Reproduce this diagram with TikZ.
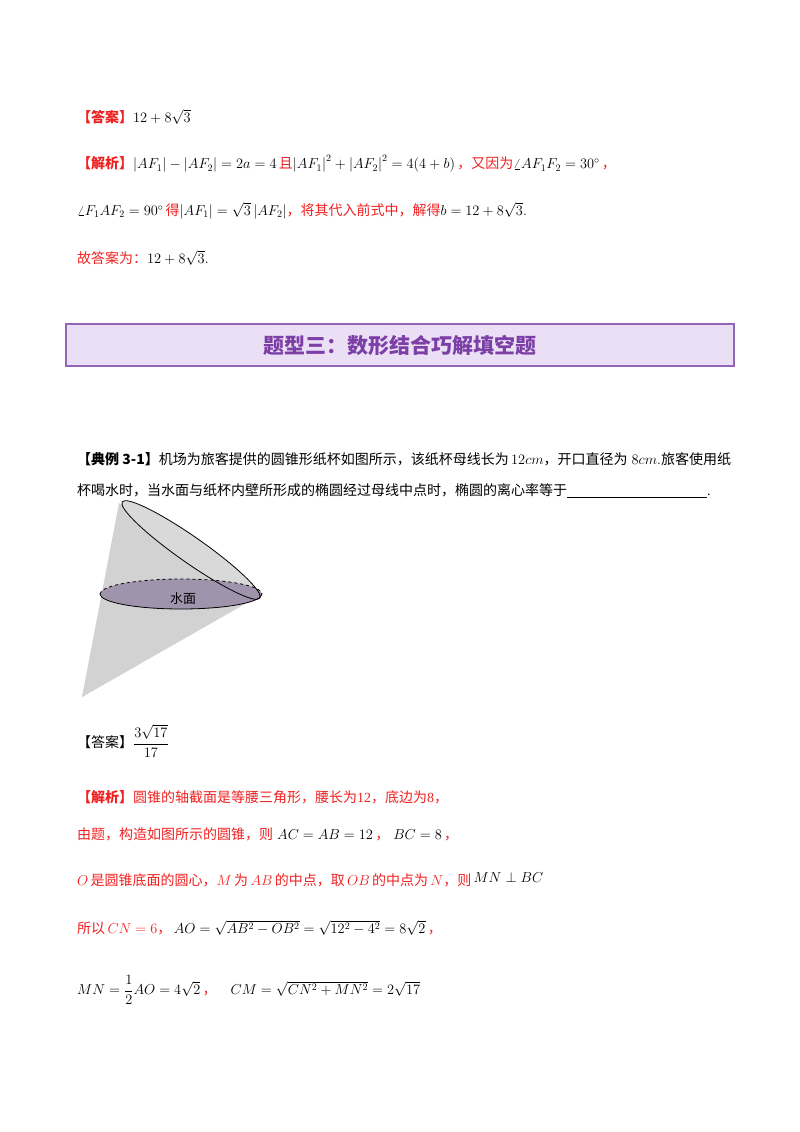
\documentclass[tikz,border=0pt]{standalone}
\usepackage{fontspec}
\usepackage{amsmath}
\setmainfont{Liberation Serif}
\newfontfamily\cjk{Noto Sans CJK SC}
\definecolor{rd}{HTML}{F02020}
\definecolor{pur}{HTML}{7B3FA6}
\definecolor{lav}{HTML}{EADFF5}
\begin{document}
\begin{tikzpicture}[x=1pt,y=-1pt,
  txt/.style={anchor=west,inner sep=0pt,font=\fontsize{14}{17}\selectfont}]
\useasboundingbox (0,0) rectangle (800,1132);
\newcommand\R[1]{\textcolor{rd}{\cjk #1}}
\newcommand\RB[1]{\textcolor{rd}{\cjk\bfseries #1}}
\node[txt] (a1) at (77,117) {\RB{【答案】}$12+8\sqrt3$};
\node[txt] (a2) at (77,164) {\RB{【解析】}$\left|AF_1\right|-\left|AF_2\right|=2a=4$\,\R{且}$\left|AF_1\right|^2+\left|AF_2\right|^2=4(4+b)$\,\R{，又因为}$\angle AF_1F_2=30^\circ$\,\R{，}};
\node[txt] (a3) at (77,211) {$\angle F_1AF_2=90^\circ$\,\R{得}$\left|AF_1\right|=\sqrt3\left|AF_2\right|$\R{，将其代入前式中，解得}$b=12+8\sqrt3.$};
\node[txt] (a4) at (77,258) {\R{故答案为：}$12+8\sqrt3.$};
\node[draw=pur!80,line width=1.8pt,fill=lav,minimum width=668,minimum height=42,inner sep=0pt] (box) at (400,345) {\textcolor{pur}{\cjk\bfseries\fontsize{21}{24}\selectfont 题型三：数形结合巧解填空题}};
\node[txt] (q1) at (77,459) {{\cjk\bfseries 【典例 3-1】}{\cjk 机场为旅客提供的圆锥形纸杯如图所示，该纸杯母线长为}\,$12cm${\cjk ，开口直径为}$\;8cm.${\cjk 旅客使用纸}};
\node[txt] (q2) at (77,491) {{\cjk 杯喝水时，当水面与纸杯内壁所形成的椭圆经过母线中点时，椭圆的离心率等于}\rule[-2pt]{140pt}{0.6pt}.};
% cone
\coordinate (apex) at (82,697);
\fill[gray!35] (apex) -- (119,503) -- (252,600) -- cycle;
\fill[gray!30] (191,550) ellipse[x radius=84,y radius=13,rotate=-35];
\fill[gray!35] (apex) -- (104,600) -- (250,598) -- cycle;
\fill[fill={rgb,255:red,160;green,148;blue,172}] (181,594) ellipse[x radius=81,y radius=15];
\draw[thick,dashed] (100,594) arc[start angle=180,end angle=360,x radius=81,y radius=15];
\draw[thick] (100,594) arc[start angle=180,end angle=0,x radius=81,y radius=15];
\draw[thick] (191,550) ellipse[x radius=84,y radius=13,rotate=-35];
\node[inner sep=0pt,font=\cjk\fontsize{13}{15}\selectfont] (wm) at (183,599) {水面};
% answer
\node[txt] (b1) at (77,741) {{\cjk 【答案】}$\dfrac{3\sqrt{17}}{17}$};
\node[txt] (b2) at (77,797) {\RB{【解析】}\R{圆锥的轴截面是等腰三角形，腰长为}\textcolor{rd}{12}\R{，底边为}\textcolor{rd}{8}\R{，}};
\node[txt] (b3) at (77,834) {\R{由题，构造如图所示的圆锥，则}$\;AC=AB=12$\,\R{，}$\;BC=8$\,\R{，}};
\node[txt] (b4) at (77,880) {\textcolor{rd}{$O$}\,\R{是圆锥底面的圆心，}\textcolor{rd}{$M$}\,\R{为}\,\textcolor{rd}{$AB$}\,\R{的中点，取}\,\textcolor{rd}{$OB$}\,\R{的中点为}\,\textcolor{rd}{$N$}\R{，则}\,\raisebox{3pt}{$MN\perp BC$}};
\node[txt] (b5) at (77,928) {\R{所以}\,\textcolor{rd}{$CN=6$}\R{，}\,$AO=\sqrt{AB^2-OB^2}=\sqrt{12^2-4^2}=8\sqrt2$\,\R{，}};
\node[txt] (b6) at (77,990) {$MN=\dfrac12AO=4\sqrt2$\,\R{，}\quad$CM=\sqrt{CN^2+MN^2}=2\sqrt{17}$};
\end{tikzpicture}
\end{document}
